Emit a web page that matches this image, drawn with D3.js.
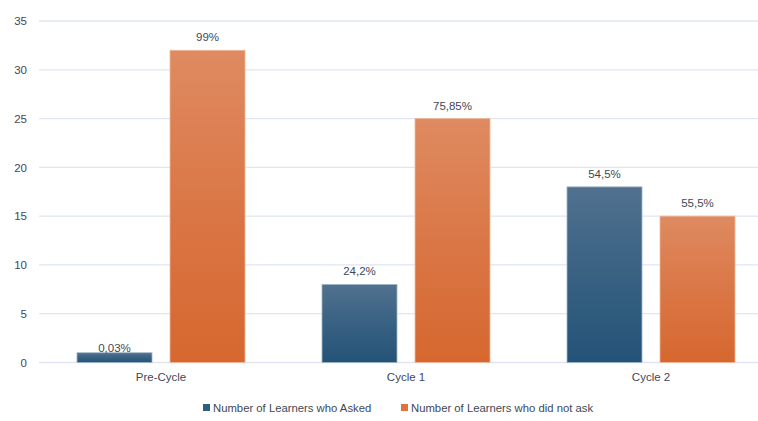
<!DOCTYPE html>
<html><head><meta charset="utf-8">
<script src="https://cdn.jsdelivr.net/npm/d3@7"></script>
<style>body{margin:0;background:#fff}svg{display:block}text{font-family:"Liberation Sans",Arial,sans-serif;fill:#3f4756}</style>
</head><body><svg id="c" width="758" height="421"></svg>
<script>
const categories = ["Pre-Cycle", "Cycle 1", "Cycle 2"];
const seriesNames = ["Number of Learners who Asked", "Number of Learners who did not ask"];
const askedValues = [1, 8, 18];
const notAskedValues = [32, 25, 15];
const askedLabels = ["0,03%", "24,2%", "54,5%"];
const notAskedLabels = ["99%", "75,85%", "55,5%"];
const yTicks = [0, 5, 10, 15, 20, 25, 30, 35];

const svg = d3.select("#c");
const defs = svg.append("defs");
const grads = [["gBlue", "#51718f", "#245377"], ["gOrange", "#df8a61", "#d6672f"]];
grads.forEach(([id, c1, c2]) => {
  const g = defs.append("linearGradient").attr("id", id).attr("x1", 0).attr("y1", 0).attr("x2", 0).attr("y2", 1);
  g.append("stop").attr("offset", "0%").attr("stop-color", c1);
  g.append("stop").attr("offset", "50%").attr("stop-color", d3.interpolateRgb(c1, c2)(0.55));
  g.append("stop").attr("offset", "100%").attr("stop-color", c2);
});
const fills = ["url(#gBlue)", "url(#gOrange)"];
const legendColors = ["#2f5d80", "#e0733a"];

const x0 = d3.scaleBand().domain(categories).range([38.5, 773.5]).paddingInner(0).paddingOuter(0);
const x1 = d3.scaleBand().domain([0, 1]).range([38.5, 206.5]).paddingInner(18 / 93).paddingOuter(0);
const y = d3.scaleLinear().domain([0, 35]).range([362.5, 21]);

// gridlines
svg.append("g").selectAll("line").data(yTicks).join("line")
  .attr("x1", 39).attr("x2", 758).attr("y1", d => y(d)).attr("y2", d => y(d))
  .attr("stroke", "#dfe6f1").attr("stroke-width", 1.3);

// y axis labels
const yAxis = d3.axisLeft(y).tickValues(yTicks).tickSize(0).tickPadding(0);
const ya = svg.append("g").attr("transform", "translate(27,0)").call(yAxis);
ya.select(".domain").remove();
ya.selectAll("text").attr("font-size", 11.5).style("font-family", '"Liberation Sans",Arial,sans-serif').attr("fill", "#3f4756");

const data = categories.map((c, i) => ({c, vals: [askedValues[i], notAskedValues[i]], labs: [askedLabels[i], notAskedLabels[i]]}));
const groups = svg.append("g").selectAll("g").data(data).join("g")
  .attr("transform", d => `translate(${x0(d.c)},0)`);
groups.selectAll("rect").data(d => d.vals.map((v, k) => ({v, k}))).join("rect")
  .attr("x", d => x1(d.k)).attr("width", x1.bandwidth())
  .attr("y", d => y(d.v)).attr("height", d => y(0) - y(d.v))
  .attr("fill", d => fills[d.k]).attr("stroke", d => d.k ? "#f0b89a" : "#9fb4c8").attr("stroke-width", 0.8);
groups.selectAll("text.lab").data(d => d.labs.map((l, k) => ({l, k, v: d.vals[k]}))).join("text")
  .attr("class", "lab").attr("text-anchor", "middle")
  .attr("x", d => x1(d.k) + x1.bandwidth() / 2)
  .attr("y", d => y(d.v) - (d.v < 2 ? 0.5 : 9))
  .attr("font-size", 11.5).text(d => d.l);

// x axis category labels
const xAxis = d3.axisBottom(x0).tickSize(0).tickPadding(0);
const xa = svg.append("g").attr("transform", `translate(0,${y(0) + 10})`).call(xAxis);
xa.select(".domain").remove();
xa.selectAll("text").attr("font-size", 11.5).attr("dy", "0.71em").style("font-family", '"Liberation Sans",Arial,sans-serif').attr("fill", "#3f4756");

// legend
const legendX = [203, 401];
const lg = svg.append("g").selectAll("g").data(seriesNames).join("g")
  .attr("transform", (d, i) => `translate(${legendX[i]},408)`);
lg.append("rect").attr("x", 0).attr("y", -4).attr("width", 7).attr("height", 7).attr("fill", (d, i) => legendColors[i]);
lg.append("text").attr("x", 10).attr("y", 4).attr("font-size", 11.3).text(d => d);
</script></body></html>
